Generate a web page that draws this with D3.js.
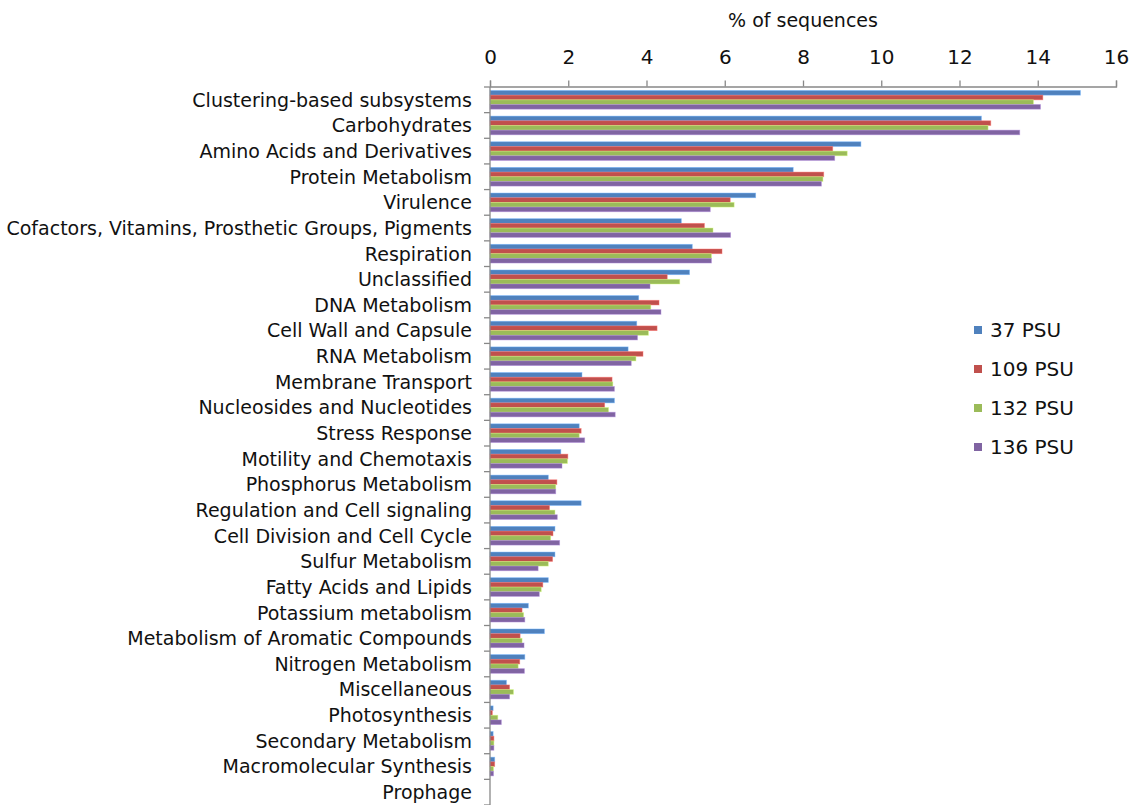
<!DOCTYPE html>
<html>
<head>
<meta charset="utf-8">
<script src="https://cdn.jsdelivr.net/npm/d3@7"></script>
<style>
  html, body { margin: 0; padding: 0; background: #ffffff; }
  svg { display: block; font-family: "DejaVu Sans", sans-serif; }
</style>
</head>
<body>
<svg id="chart" width="1130" height="805"></svg>
<script>
// Functional categories (top to bottom)
const categories = [
  "Clustering-based subsystems",
  "Carbohydrates",
  "Amino Acids and Derivatives",
  "Protein Metabolism",
  "Virulence",
  "Cofactors, Vitamins, Prosthetic Groups, Pigments",
  "Respiration",
  "Unclassified",
  "DNA Metabolism",
  "Cell Wall and Capsule",
  "RNA Metabolism",
  "Membrane Transport",
  "Nucleosides and Nucleotides",
  "Stress Response",
  "Motility and Chemotaxis",
  "Phosphorus Metabolism",
  "Regulation and Cell signaling",
  "Cell Division and Cell Cycle",
  "Sulfur Metabolism",
  "Fatty Acids and Lipids",
  "Potassium metabolism",
  "Metabolism of Aromatic Compounds",
  "Nitrogen Metabolism",
  "Miscellaneous",
  "Photosynthesis",
  "Secondary Metabolism",
  "Macromolecular Synthesis",
  "Prophage"
];

const seriesNames = ["37 PSU", "109 PSU", "132 PSU", "136 PSU"];

// % of sequences per salinity sample, in category order
const psu37 = [15.09, 12.56, 9.48, 7.75, 6.79, 4.89, 5.17, 5.10, 3.80, 3.75, 3.53, 2.35, 3.18, 2.28,
               1.81, 1.49, 2.33, 1.66, 1.66, 1.49, 0.98, 1.39, 0.89, 0.42, 0.08, 0.08, 0.12, 0.0];
const psu109 = [14.13, 12.80, 8.76, 8.53, 6.14, 5.48, 5.93, 4.53, 4.32, 4.27, 3.91, 3.12, 2.93, 2.33,
                1.99, 1.71, 1.52, 1.61, 1.60, 1.35, 0.82, 0.77, 0.76, 0.50, 0.06, 0.10, 0.12, 0.0];
const psu132 = [13.89, 12.73, 9.13, 8.51, 6.24, 5.70, 5.66, 4.85, 4.11, 4.05, 3.73, 3.14, 3.03, 2.28,
                1.98, 1.68, 1.66, 1.55, 1.49, 1.31, 0.86, 0.82, 0.72, 0.60, 0.20, 0.10, 0.09, 0.0];
const psu136 = [14.07, 13.54, 8.81, 8.47, 5.63, 6.15, 5.66, 4.09, 4.37, 3.77, 3.61, 3.18, 3.20, 2.42,
                1.84, 1.68, 1.72, 1.78, 1.23, 1.26, 0.89, 0.87, 0.88, 0.50, 0.29, 0.10, 0.09, 0.0];

const xTicks = [0, 2, 4, 6, 8, 10, 12, 14, 16];
const colors = ["#4F81BD", "#C0504D", "#9BBB59", "#8064A2"];
const axisColor = "#888888";

const seriesValues = [psu37, psu109, psu132, psu136];
const rows = categories.map((c, i) => ({
  category: c,
  values: seriesNames.map((s, j) => ({ series: s, value: seriesValues[j][i] }))
}));

const svg = d3.select("#chart");

const x = d3.scaleLinear().domain([0, 16]).range([490, 1116]);
const y = d3.scaleBand().domain(categories).range([87, 805]).padding(0);
const ySub = d3.scaleBand().domain(seriesNames).range([0, y.bandwidth()])
  .paddingInner(0).paddingOuter(0.745);
const color = d3.scaleOrdinal().domain(seriesNames).range(colors);

// Bars
const groups = svg.append("g").selectAll("g")
  .data(rows)
  .join("g")
  .attr("transform", d => `translate(0,${y(d.category)})`);

groups.selectAll("rect")
  .data(d => d.values)
  .join("rect")
  .attr("x", x(0))
  .attr("y", d => ySub(d.series))
  .attr("width", d => Math.max(0, x(d.value) - x(0)))
  .attr("height", ySub.bandwidth())
  .attr("fill", d => color(d.series))
  .attr("stroke", d => d3.color(color(d.series)).brighter(0.9))
  .attr("stroke-opacity", 0.55)
  .attr("stroke-width", 0.8);

// Top value axis
const xAxis = svg.append("g")
  .attr("transform", "translate(0,86.5)")
  .call(d3.axisTop(x).tickValues(xTicks).tickSize(6).tickPadding(17).tickSizeOuter(6));
xAxis.select(".domain").attr("stroke", axisColor).attr("stroke-width", 1.3);
xAxis.selectAll(".tick line").attr("stroke", axisColor).attr("stroke-width", 1.3);
xAxis.selectAll(".tick text")
  .attr("fill", "#111")
  .style("font-size", "20px")
  .style("font-family", "DejaVu Sans, sans-serif");

// Category axis: line on the left with ticks at band boundaries
const yAxisG = svg.append("g");
yAxisG.append("line")
  .attr("x1", x(0)).attr("x2", x(0))
  .attr("y1", y.range()[0]).attr("y2", y.range()[1])
  .attr("stroke", axisColor).attr("stroke-width", 1.3);
const boundaries = categories.map(c => y(c)).concat([y.range()[1]]);
yAxisG.selectAll("line.cat-tick")
  .data(boundaries)
  .join("line")
  .attr("class", "cat-tick")
  .attr("x1", x(0) - 6).attr("x2", x(0))
  .attr("y1", d => d).attr("y2", d => d)
  .attr("stroke", axisColor).attr("stroke-width", 1.3);

yAxisG.selectAll("text")
  .data(categories)
  .join("text")
  .attr("x", 472)
  .attr("y", d => y(d) + y.bandwidth() / 2)
  .attr("dy", "0.36em")
  .attr("text-anchor", "end")
  .attr("fill", "#111")
  .style("font-size", "19px")
  .text(d => d);

// Axis title
svg.append("text")
  .attr("x", 803)
  .attr("y", 20)
  .attr("dy", "0.36em")
  .attr("text-anchor", "middle")
  .attr("fill", "#111")
  .style("font-size", "19px")
  .text("% of sequences");

// Legend
const legend = svg.append("g").attr("transform", "translate(974,330)");
const legendItems = legend.selectAll("g")
  .data(seriesNames)
  .join("g")
  .attr("transform", (d, i) => `translate(0,${i * 39})`);
legendItems.append("rect")
  .attr("x", 0).attr("y", -4)
  .attr("width", 8).attr("height", 8)
  .attr("fill", d => color(d));
legendItems.append("text")
  .attr("x", 16)
  .attr("y", 0)
  .attr("dy", "0.36em")
  .attr("fill", "#111")
  .style("font-size", "20px")
  .text(d => d);
</script>
</body>
</html>
